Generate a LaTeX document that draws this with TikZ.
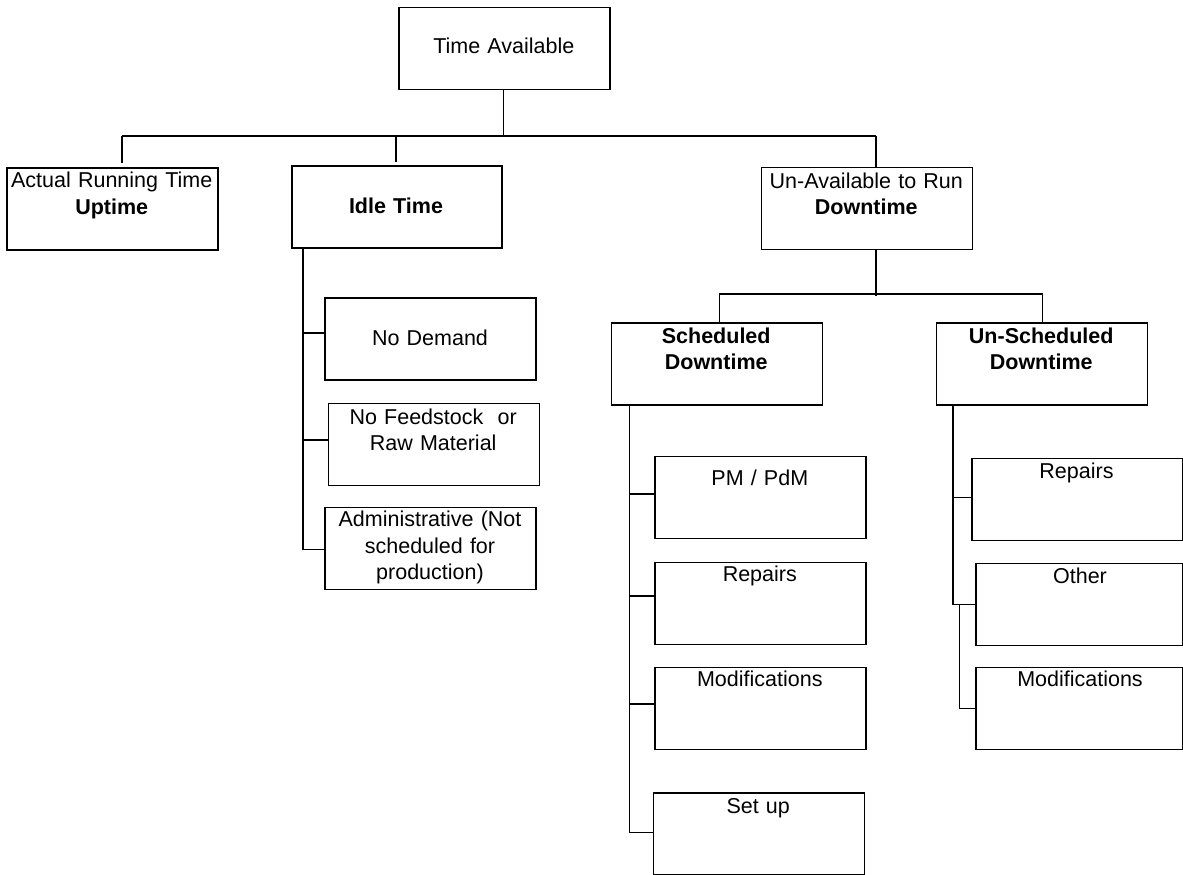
\documentclass[tikz,border=0pt]{standalone}
\usepackage{fontspec}
\setmainfont{Liberation Sans}
\begin{document}
\begin{tikzpicture}[x=1pt,y=-1pt,
  box/.style={draw, line width=1.6pt, rectangle, inner sep=0pt, anchor=north west, minimum width=211pt, minimum height=82pt},
  txt/.style={anchor=base, inner sep=0pt, text width=209pt, align=center, font=\fontsize{21.5}{26.3}\selectfont},
  conn/.style={line width=1.6pt}]
\useasboundingbox (0,0) rectangle (1183,875);
% boxes
\node[box] (ta) at (398.3,6.7) {};
\node[box] (act) at (6,167.3) {};
\node[box, minimum width=210pt] (idle) at (291,165.3) {};
\node[box] (dt) at (760.7,166.7) {};
\node[box] (sch) at (610.7,322) {};
\node[box] (uns) at (935.7,322.3) {};
\node[box] (nd) at (324.3,297.3) {};
\node[box] (nf) at (327.7,402.7) {};
\node[box] (adm) at (324.3,506.7) {};
\node[box] (pm) at (654.3,455.7) {};
\node[box] (rs) at (654.3,561.7) {};
\node[box] (ms) at (654.3,666.7) {};
\node[box] (su) at (652.7,792.3) {};
\node[box, minimum width=210.5pt] (ru) at (971,457.7) {};
\node[box, minimum width=206.5pt] (ot) at (975,562.7) {};
\node[box, minimum width=206.5pt] (mu) at (975,666.7) {};
% texts
\node[txt] (ta-t) at (503.8,54) {Time Available};
\node[txt] (act-t) at (111.7,187.7) {Actual Running Time\\\textbf{Uptime}};
\node[txt] (idle-t) at (396,213.3) {\textbf{Idle Time}};
\node[txt] (dt-t) at (866.3,188.3) {Un-Available to Run\\\textbf{Downtime}};
\node[txt] (sch-t) at (716.2,343.3) {\textbf{Scheduled}\\\textbf{Downtime}};
\node[txt] (uns-t) at (1041.2,343.3) {\textbf{Un-Scheduled}\\\textbf{Downtime}};
\node[txt] (nd-t) at (430,345) {No Demand};
\node[txt] (nf-t) at (433.2,424.3) {No Feedstock\ \ or\\Raw Material};
\node[txt] (adm-t) at (430,526.7) {Administrative (Not\\scheduled for\\production)};
\node[txt] (pm-t) at (759.8,485) {PM / PdM};
\node[txt] (rs-t) at (759.8,581.7) {Repairs};
\node[txt] (ms-t) at (759.8,686.7) {Modifications};
\node[txt] (su-t) at (758.2,813.3) {Set up};
\node[txt] (ru-t) at (1076.5,478.3) {Repairs};
\node[txt] (ot-t) at (1080,583.3) {Other};
\node[txt] (mu-t) at (1080,686.7) {Modifications};
% top level connectors
\coordinate (jt) at (503.3,135.7);
\coordinate (bl) at (122,135.7);
\coordinate (bm) at (395.7,135.7);
\coordinate (br) at (875.7,135.7);
\draw[conn] (jt |- ta.south) -- (jt);
\draw[conn] (bl) -- (br);
\draw[conn, shorten >=4pt] (bl) -- (bl |- act.north);
\draw[conn, shorten >=3pt] (bm) -- (bm |- idle.north);
\draw[conn] (br) -- (br |- dt.north);
% downtime split
\coordinate (jd) at (875.7,293.7);
\coordinate (dl) at (719.3,293.7);
\coordinate (dr) at (1042.5,293.7);
\draw[conn] (jd |- dt.south) -- ([yshift=-2pt]jd);
\draw[conn] (dl) -- (dr);
\draw[conn] (dl) -- (dl |- sch.north);
\draw[conn] (dr) -- (dr |- uns.north);
% idle children
\coordinate (iv) at (302.7,549.3);
\draw[conn] (iv |- idle.south) -- (iv) -- (adm.west |- iv);
\draw[conn] (iv |- 0,332.7) -- (nd.west |- 0,332.7);
\draw[conn] (iv |- 0,440) -- (nf.west |- 0,440);
% scheduled children
\coordinate (sv) at (629.3,832.3);
\draw[conn] (sv |- sch.south) -- (sv) -- (su.west |- sv);
\draw[conn] (sv |- 0,494) -- (pm.west |- 0,494);
\draw[conn] (sv |- 0,596) -- (rs.west |- 0,596);
\draw[conn] (sv |- 0,703.7) -- (ms.west |- 0,703.7);
% unscheduled children
\coordinate (uv) at (952.7,604.3);
\draw[conn] (uv |- uns.south) -- (uv) -- (ot.west |- uv);
\draw[conn] (uv |- 0,497.3) -- (ru.west |- 0,497.3);
\coordinate (uv2) at (959.3,708.3);
\draw[conn] (uv2 |- uv) -- (uv2) -- ([xshift=1.7pt]mu.west |- uv2);
\end{tikzpicture}
\end{document}
